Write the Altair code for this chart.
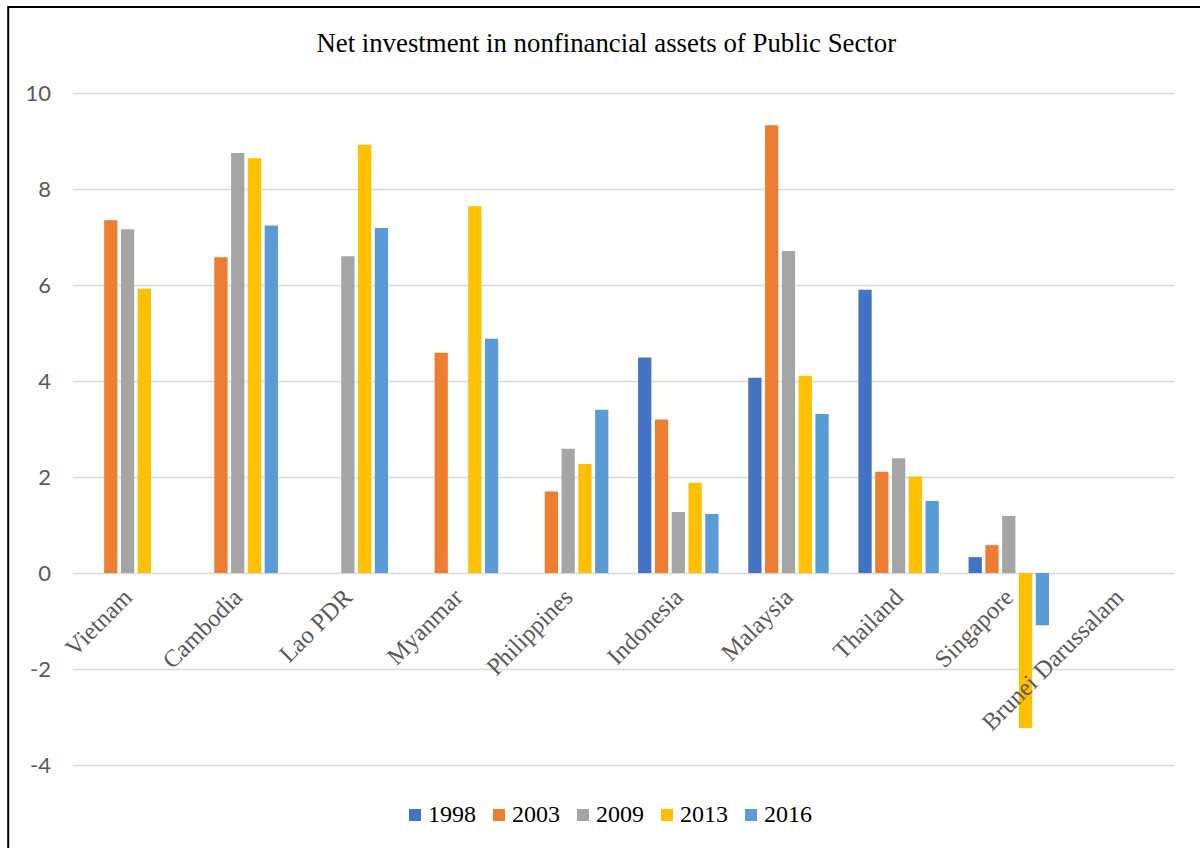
import altair as alt
import pandas as pd

# Net investment in nonfinancial assets of the public sector (% of GDP)
countries = ["Vietnam", "Cambodia", "Lao PDR", "Myanmar", "Philippines",
             "Indonesia", "Malaysia", "Thailand", "Singapore", "Brunei Darussalam"]
years = ["1998", "2003", "2009", "2013", "2016"]

v1998 = [None, None, None, None, None, 4.49, 4.07, 5.90, 0.33, None]
v2003 = [7.35, 6.58, None, 4.59, 1.70, 3.20, 9.33, 2.11, 0.58, None]
v2009 = [7.16, 8.75, 6.60, None, 2.59, 1.27, 6.71, 2.39, 1.19, None]
v2013 = [5.92, 8.64, 8.92, 7.64, 2.27, 1.88, 4.11, 2.01, -3.23, None]
v2016 = [None, 7.24, 7.19, 4.88, 3.40, 1.23, 3.31, 1.50, -1.09, None]

colors = ["#4472C4", "#ED7D31", "#A5A5A5", "#FFC000", "#5B9BD5"]
y_ticks = [-4, -2, 0, 2, 4, 6, 8, 10]

series = dict(zip(years, [v1998, v2003, v2009, v2013, v2016]))
rows = []
for yr, vals in series.items():
    for c, v in zip(countries, vals):
        if v is not None:
            rows.append({"country": c, "year": yr, "value": v})
df = pd.DataFrame(rows)
labels_df = pd.DataFrame({"country": countries})

W, H = 1101.5, 672
PAD = {"left": 72.5, "top": 93, "right": 26, "bottom": 83}

x_scale = alt.Scale(domain=countries, paddingInner=0.27, paddingOuter=0.135)

bars = alt.Chart(df).mark_bar().encode(
    x=alt.X("country:N", scale=x_scale, axis=None, sort=countries),
    xOffset=alt.XOffset("year:N", scale=alt.Scale(domain=years, paddingInner=0.21, paddingOuter=0)),
    y=alt.Y("value:Q", scale=alt.Scale(domain=[-4, 10], nice=False),
            axis=alt.Axis(values=y_ticks, title=None, domain=False, ticks=False, tickSize=0,
                          labelExpr="datum.value + ''",
                          labelFont="Lato", labelFontSize=22, labelColor="#595959",
                          labelPadding=22, grid=True, gridColor="#D9D9D9", gridWidth=1.3)),
    color=alt.Color("year:N", scale=alt.Scale(domain=years, range=colors),
                    legend=alt.Legend(orient="none", legendX=330.5, legendY=710,
                                      direction="horizontal", columns=5, title=None,
                                      symbolType="square", symbolSize=144, symbolStrokeWidth=0,
                                      labelFont="Liberation Serif", labelFontSize=24,
                                      labelColor="#000000", labelOffset=1,
                                      columnPadding=11, padding=0)),
)

cat_labels = alt.Chart(labels_df).mark_text(
    angle=315, align="right", baseline="alphabetic", dx=-14, dy=22.5,
    font="Liberation Serif", fontSize=24.5, color="#595959",
).encode(
    x=alt.X("country:N", scale=x_scale, axis=None, sort=countries),
    y=alt.datum(0),
    text="country:N",
)

frame = alt.Chart(alt.Data(values=[{}])).mark_rect(
    filled=False, stroke="#000000", strokeWidth=2
).encode(
    x=alt.value(-64.3), x2=alt.value(1300),
    y=alt.value(-86), y2=alt.value(1000),
)

chart = alt.layer(bars, cat_labels, frame).properties(
    width=W, height=H,
    padding=PAD,
    background="#FFFFFF",
    autosize=alt.AutoSizeParams(type="none"),
    title=alt.TitleParams(
        text="Net investment in nonfinancial assets of Public Sector",
        font="Liberation Serif", fontSize=26.8, fontWeight="normal", color="#000000",
        anchor="middle", baseline="alphabetic", offset=-73, dx=-17,
    ),
).configure_view(stroke=None)

chart.save("out.html", embed_options={"renderer": "svg", "actions": False})
